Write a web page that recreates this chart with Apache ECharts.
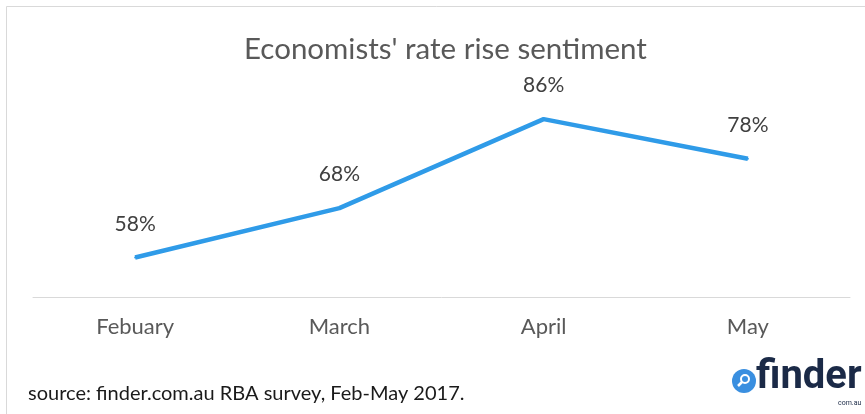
<!DOCTYPE html>
<html><head><meta charset="utf-8">
<script src="https://cdn.jsdelivr.net/npm/echarts@6/dist/echarts.min.js"></script>
<style>html,body{margin:0;padding:0;background:#fff}#c{width:865px;height:414px}</style>
</head><body><div id="c"></div>
<script>
const categories = ['Febuary', 'March', 'April', 'May'];
const sentiment = [58, 68, 86, 78];
const titleText = "Economists' rate rise sentiment";
const sourceText = 'source: finder.com.au RBA survey, Feb-May 2017.';

const chart = echarts.init(document.getElementById('c'), null, {renderer: 'canvas'});
const font = 'Lato, "Open Sans", sans-serif';
chart.setOption({
  animation: false,
  backgroundColor: '#fff',
  title: {
    text: titleText, left: 239, top: 29,
    textStyle: {fontFamily: font, fontSize: 29.5, fontWeight: 'normal', color: '#595959'}
  },
  grid: {left: 33, right: 15, top: 50, bottom: 117},
  xAxis: {
    type: 'category', data: categories, boundaryGap: true,
    axisLine: {lineStyle: {color: '#d9d9d9', width: 1}},
    axisTick: {show: false},
    axisLabel: {margin: 19, fontFamily: font, fontSize: 22, color: '#595959'}
  },
  yAxis: {type: 'value', min: 50, max: 100, show: false, splitLine: {show: false}},
  series: [{
    type: 'line', data: sentiment, symbol: 'circle', symbolSize: 2, showSymbol: true,
    itemStyle: {color: '#2f9be8'},
    lineStyle: {color: '#2f9be8', width: 4.5},
    label: {show: true, position: 'top', distance: 22, formatter: '{c}%',
      fontFamily: font, fontSize: 21, color: '#404040'}
  }],
  graphic: [
    {type: 'rect', shape: {x: 6.5, y: 6.5, width: 900, height: 500}, style: {fill: 'none', stroke: '#d9d9d9', lineWidth: 1}, silent: true},
    {type: 'text', left: 28, top: 384, style: {text: sourceText, fontFamily: font, fontSize: 20, fill: '#1a1a1a'}},
    {type: 'circle', shape: {cx: 744, cy: 381, r: 12}, style: {fill: '#3a8fe0'}},
    {type: 'circle', shape: {cx: 745, cy: 379, r: 4}, style: {fill: 'none', stroke: '#fff', lineWidth: 2}},
    {type: 'line', shape: {x1: 742, y1: 382, x2: 738, y2: 386}, style: {stroke: '#fff', lineWidth: 2.5}},
    {type: 'text', left: 756, top: 358, style: {text: 'finder', fontFamily: 'Roboto, sans-serif', fontWeight: 'bold', fontSize: 40, fill: '#1b2a47'}},
    {type: 'text', left: 838, top: 400, style: {text: 'com.au', fontFamily: 'Roboto, sans-serif', fontSize: 7, fill: '#1b2a47'}}
  ]
});
</script></body></html>
